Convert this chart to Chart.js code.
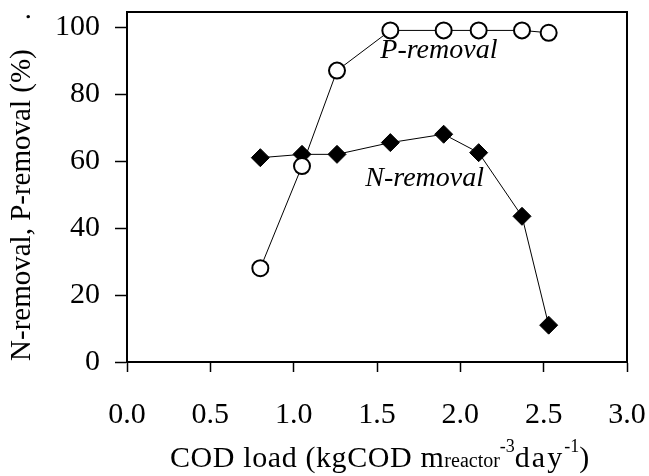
<!DOCTYPE html>
<html>
<head>
<meta charset="utf-8">
<script src="https://cdn.jsdelivr.net/npm/chart.js@4.4.0/dist/chart.umd.min.js"></script>
<style>
  html, body { margin: 0; padding: 0; background: #fff; }
  #wrap { width: 649px; height: 476px; }
</style>
</head>
<body>
<div id="wrap"><canvas id="chart" width="649" height="476"></canvas></div>
<script>
// values
var codLoad = [0.80, 1.05, 1.26, 1.58, 1.90, 2.11, 2.37, 2.53];
var pRemoval = [28, 58.5, 87, 99, 99, 99, 99, 98.3];
var nRemoval = [61, 62, 62, 65.5, 68, 62.5, 43.5, 11];
var xTicks = [0, 0.5, 1.0, 1.5, 2.0, 2.5, 3.0];
var yTicks = [0, 20, 40, 60, 80, 100];
var seriesNames = ['P-removal', 'N-removal'];
var nameAnchors = [[1.52, 90.8], [1.43, 52.6]]; // [cod load, %] where the in-plot labels start

var SERIF = '"Liberation Serif", "Times New Roman", serif';

function toPoints(xs, ys) {
  var pts = [];
  for (var i = 0; i < xs.length; i++) {
    pts.push({x: xs[i], y: ys[i]});
  }
  return pts;
}

var framePlugin = {
  id: 'frame',
  afterDatasetsDraw: function (chart) {
    var ctx = chart.ctx;
    var xs = chart.scales.x, ys = chart.scales.y;
    ctx.save();
    ctx.fillStyle = '#000';
    ctx.font = 'italic 28px ' + SERIF;
    ctx.textAlign = 'left';
    ctx.textBaseline = 'alphabetic';
    seriesNames.forEach(function (name, i) {
      ctx.fillText(name, xs.getPixelForValue(nameAnchors[i][0]), ys.getPixelForValue(nameAnchors[i][1]));
    });
    ctx.restore();
  },
  afterDraw: function (chart) {
    var ctx = chart.ctx;
    var a = chart.chartArea;
    ctx.save();
    ctx.strokeStyle = '#000';
    ctx.lineWidth = 2;
    ctx.strokeRect(a.left, a.top, a.right - a.left, a.bottom - a.top);

    // x axis title with sub/superscripts
    var parts = [
      {t: 'COD load (kgCOD m', size: 30, dy: 0, sp: 0.6},
      {t: 'reactor', size: 20, dy: 0, sp: 0},
      {t: '-3', size: 18, dy: -15, sp: 0},
      {t: 'day', size: 30, dy: 0, sp: 2},
      {t: '-1', size: 18, dy: -15, sp: 0},
      {t: ')', size: 30, dy: 0, sp: 0}
    ];
    var x = a.left + 43;
    var base = chart.height - 9;
    ctx.fillStyle = '#000';
    ctx.textAlign = 'left';
    ctx.textBaseline = 'alphabetic';
    parts.forEach(function (p) {
      ctx.font = p.size + 'px ' + SERIF;
      if ('letterSpacing' in ctx) ctx.letterSpacing = p.sp + 'px';
      ctx.fillText(p.t, x, base + p.dy);
      x += ctx.measureText(p.t).width;
    });
    if ('letterSpacing' in ctx) ctx.letterSpacing = '0px';
    ctx.restore();
  }
};

var ctx = document.getElementById('chart').getContext('2d');

window.removalChart = new Chart(ctx, {
  type: 'scatter',
  data: {
    datasets: [{
      label: seriesNames[0],
      data: toPoints(codLoad, pRemoval),
      showLine: true,
      borderColor: '#000',
      borderWidth: 1,
      pointStyle: 'circle',
      pointRadius: 8,
      pointHoverRadius: 8,
      pointBackgroundColor: '#fff',
      pointBorderColor: '#000',
      pointBorderWidth: 2,
      clip: false
    }, {
      label: seriesNames[1],
      data: toPoints(codLoad, nRemoval),
      showLine: true,
      borderColor: '#000',
      borderWidth: 1,
      pointStyle: 'rectRot',
      pointRadius: 9,
      pointHoverRadius: 9,
      pointBackgroundColor: '#000',
      pointBorderColor: '#000',
      pointBorderWidth: 1,
      clip: false
    }]
  },
  options: {
    responsive: false,
    animation: false,
    devicePixelRatio: 1,
    layout: {
      padding: {top: 12, right: 22, left: 0, bottom: 0}
    },
    plugins: {
      legend: {display: false},
      tooltip: {enabled: false}
    },
    scales: {
      x: {
        type: 'linear',
        position: 'bottom',
        min: 0,
        max: 3,
        afterBuildTicks: function (scale) {
          scale.ticks = xTicks.map(function (v) { return {value: v}; });
        },
        afterFit: function (scale) {
          scale.height = 114;
          scale.paddingLeft = 0;
          scale.paddingRight = 0;
        },
        grid: {
          drawOnChartArea: false,
          drawTicks: true,
          tickLength: 10,
          tickColor: '#000',
          tickWidth: 1.5
        },
        border: {color: '#000', width: 2},
        ticks: {
          color: '#000',
          font: {family: SERIF, size: 30},
          padding: 25,
          maxRotation: 0,
          autoSkip: false,
          callback: function (v) { return v.toFixed(1); }
        }
      },
      y: {
        min: 0,
        max: 104.5,
        afterBuildTicks: function (scale) {
          scale.ticks = yTicks.map(function (v) { return {value: v}; });
        },
        afterFit: function (scale) {
          scale.width = 127;
          scale.paddingTop = 0;
          scale.paddingBottom = 0;
        },
        grid: {
          drawOnChartArea: false,
          drawTicks: true,
          tickLength: 12,
          tickColor: '#000',
          tickWidth: 1.5
        },
        border: {color: '#000', width: 2},
        ticks: {
          color: '#000',
          font: {family: SERIF, size: 30},
          padding: 15
        },
        title: {
          display: true,
          text: 'N-removal, P-removal (%)    .',
          color: '#000',
          font: {family: SERIF, size: 29},
          padding: {top: 5, bottom: 0}
        }
      }
    }
  },
  plugins: [framePlugin]
});
</script>
</body>
</html>
